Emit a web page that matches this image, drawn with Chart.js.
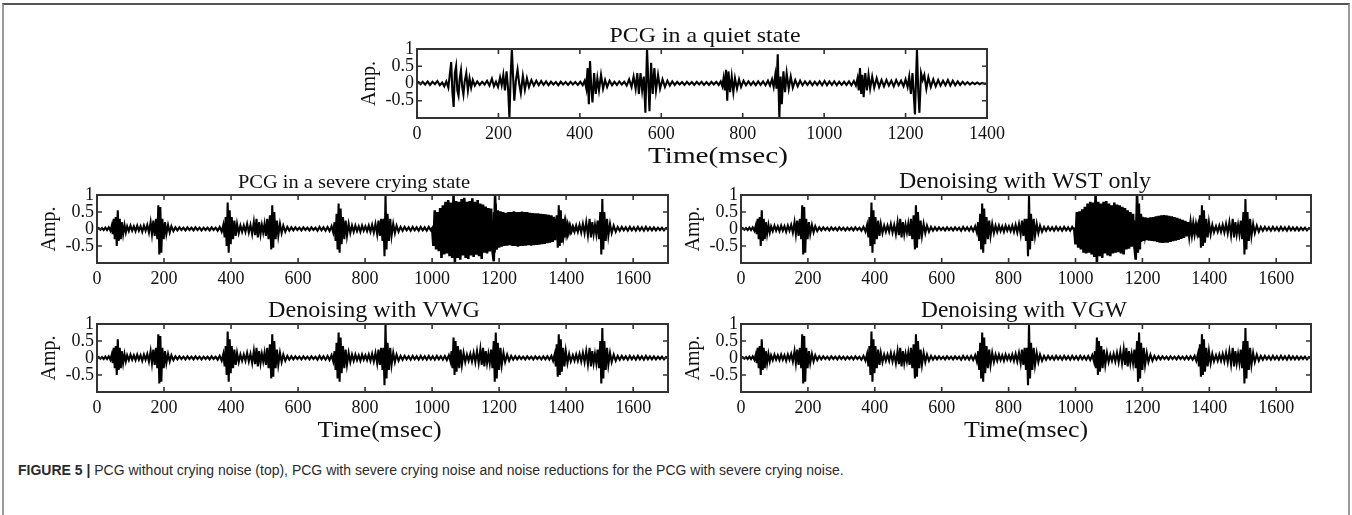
<!DOCTYPE html>
<html><head><meta charset="utf-8">
<script src="https://cdn.jsdelivr.net/npm/chart.js@4.4.1/dist/chart.umd.min.js"></script>
<style>
html,body{margin:0;padding:0;background:#fff;}
body{width:1352px;height:515px;position:relative;overflow:hidden;}
#box{position:absolute;left:2px;top:3px;width:1348px;height:540px;border-top:2px solid #555;border-left:2px solid #9a9a9a;border-right:2px solid #9a9a9a;box-sizing:border-box;}
canvas{position:absolute;}
#cap{position:absolute;left:18px;top:462px;font-family:"Liberation Sans",Arial,sans-serif;font-size:14px;color:#2a2a2a;white-space:nowrap;}
</style></head><body>
<div id="box"></div>
<div id="cap"><b>FIGURE 5 |</b> PCG without crying noise (top), PCG with severe crying noise and noise reductions for the PCG with severe crying noise.</div>
<script>
// ---------- DATA ----------
const yTicks = [-0.5, 0, 0.5, 1];
const xTicksQuiet = [0, 200, 400, 600, 800, 1000, 1200, 1400];
const xTicksLong = [0, 200, 400, 600, 800, 1000, 1200, 1400, 1600];

// PCG in a quiet state: turning points [msec, amp]
const quietPCG = [
[0,0],[4,0.04],[9,-0.02],[14,0.05],[20,-0.03],[26,0.06],[32,-0.04],[38,0.05],[44,-0.02],[50,0.07],[56,-0.05],[62,0.03],[67,-0.08],[72,0.06],[77,-0.12],
[80,0.2],[84,0.62],[87,-0.25],[90,-0.68],[93,0.3],[96,0.5],[99,-0.2],[102,-0.35],[105,0.15],[108,0.38],[111,-0.1],[114,-0.32],[117,0.05],[121,0.3],[125,-0.2],[129,0.15],[133,-0.12],[137,0.1],[142,-0.06],
[148,0.06],[154,-0.04],[160,0.05],[166,-0.03],[172,0.08],[178,-0.06],[184,0.14],[189,-0.08],[194,0.05],[199,-0.1],[204,0.18],[208,-0.05],[212,0.25],[216,-0.2],
[220,0.35],[224,-0.2],[227,-1.0],[230,0.2],[233,1.0],[236,0.2],[239,-0.5],[243,0.1],[247,0.4],[251,0.0],[255,-0.28],[260,0.22],[265,-0.18],[270,0.15],[275,-0.1],[281,0.1],[287,-0.06],[293,0.08],[299,-0.05],
[305,0.07],[311,-0.04],[317,0.06],[323,-0.05],[329,0.05],[335,-0.03],[341,0.04],[347,-0.05],[353,0.05],[359,-0.03],[365,0.04],[371,-0.04],[377,0.05],[383,-0.03],[389,0.04],[395,-0.04],[401,0.05],[407,-0.05],[412,0.08],
[416,-0.15],[419,0.45],[422,-0.6],[425,0.65],[428,-0.1],[431,-0.55],[435,0.3],[439,-0.3],[443,0.15],[447,-0.2],[452,0.25],[457,-0.15],[462,0.1],[467,-0.1],[473,0.08],
[479,-0.05],[485,0.05],[491,-0.04],[497,0.06],[503,-0.03],[509,0.05],[515,-0.06],[521,0.12],[527,-0.1],[532,0.2],[537,-0.15],[541,0.3],[545,-0.3],
[549,0.3],[553,-0.2],[557,0.2],[561,-0.85],[565,1.0],[568,0.1],[571,-0.8],[575,0.6],[579,-0.3],[583,0.45],[587,-0.2],[592,0.25],[597,-0.15],[603,0.12],[609,-0.1],[615,0.08],[621,-0.06],
[627,0.06],[633,-0.04],[639,0.05],[645,-0.03],[651,0.04],[657,-0.04],[663,0.05],[669,-0.03],[675,0.04],[681,-0.04],[687,0.05],[693,-0.03],[699,0.05],[705,-0.04],[711,0.04],[717,-0.04],[723,0.05],[729,-0.03],[735,0.05],[741,-0.04],[746,0.06],
[750,-0.08],[753,0.15],[756,-0.2],[759,0.4],[762,-0.5],[765,0.35],[769,-0.25],[773,0.2],[777,-0.25],[781,0.15],[786,-0.15],[791,0.12],[796,-0.1],[802,0.08],
[808,-0.05],[814,0.06],[820,-0.04],[826,0.05],[832,-0.05],[838,0.06],[844,-0.04],[850,0.06],[856,-0.05],[862,0.08],[867,-0.06],[872,0.12],[876,-0.1],[880,0.25],[883,-0.15],
[886,0.85],[890,-1.0],[893,0.2],[896,-0.6],[900,0.35],[904,-0.25],[908,0.3],[913,-0.15],[918,0.2],[923,-0.12],[929,0.1],[935,-0.08],[941,0.08],
[947,-0.05],[953,0.06],[959,-0.04],[965,0.06],[971,-0.05],[977,0.05],[983,-0.04],[989,0.06],[995,-0.05],[1001,0.07],[1007,-0.05],[1013,0.06],[1019,-0.04],[1025,0.06],[1031,-0.05],[1037,0.05],[1043,-0.04],[1049,0.05],[1055,-0.04],[1061,0.06],[1067,-0.05],[1073,0.07],[1078,-0.06],
[1082,0.15],[1085,-0.2],[1088,0.45],[1091,-0.3],[1094,0.25],[1097,-0.4],[1101,0.3],[1105,-0.2],[1109,0.25],[1113,-0.15],[1118,0.2],[1123,-0.12],[1129,0.15],[1135,-0.1],[1141,0.1],
[1147,-0.08],[1153,0.1],[1159,-0.06],[1165,0.08],[1171,-0.08],[1177,0.1],[1183,-0.05],[1189,0.08],[1195,-0.08],[1200,0.12],[1205,-0.1],[1209,0.2],[1213,-0.3],[1217,0.3],
[1223,-0.9],[1228,1.0],[1231,-0.2],[1234,-0.85],[1238,0.3],[1242,0.1],[1246,0.25],[1251,-0.15],[1256,0.18],[1262,-0.1],[1268,0.12],[1274,-0.08],[1280,0.1],[1286,-0.06],
[1292,0.08],[1298,-0.05],[1304,0.1],[1310,-0.06],[1316,0.08],[1322,-0.05],[1328,0.06],[1334,-0.04],[1340,0.05],[1346,-0.03],[1352,0.04],[1358,-0.03],[1364,0.03],[1370,-0.02],[1376,0.03],[1382,-0.02],[1388,0.02],[1394,-0.01],[1400,0]
];

// Clean PCG (1700 ms) as seen after denoising: turning points [msec, amp]
const cleanPCG = [
[0,0],[5,0.03],[10,-0.02],[15,0.03],[20,-0.03],[25,0.04],[30,-0.03],[35,0.05],[40,-0.05],[44,0.1],
[47,-0.15],[50,0.3],[53,-0.3],[56,0.35],[59,-0.5],[62,0.55],[65,-0.35],[68,0.3],[71,-0.3],[74,0.2],[78,-0.15],[82,0.12],[86,-0.1],[90,0.08],[95,-0.06],
[100,0.1],[105,-0.05],[110,0.08],[115,-0.06],[120,0.1],[125,-0.05],[130,0.08],[135,-0.08],[140,0.1],[145,-0.05],[150,0.12],[155,-0.1],[160,0.2],[164,-0.15],[168,0.25],[172,-0.2],
[176,0.3],[180,-0.3],[183,0.7],[186,-0.75],[189,0.65],[192,-0.7],[195,0.3],[199,-0.3],[203,0.2],[207,-0.15],[212,0.12],[217,-0.1],[222,0.08],[228,-0.06],
[234,0.05],[240,-0.04],[246,0.05],[252,-0.03],[258,0.04],[264,-0.04],[270,0.05],[276,-0.03],[282,0.04],[288,-0.04],[294,0.05],[300,-0.03],[306,0.04],[312,-0.04],[318,0.04],[324,-0.03],[330,0.04],[336,-0.04],[342,0.05],[348,-0.03],[354,0.04],[360,-0.05],[366,0.06],[372,-0.08],[377,0.12],
[381,-0.25],[384,0.35],[387,-0.5],[390,0.78],[393,-0.7],[396,0.55],[399,-0.45],[402,0.35],[406,-0.3],[410,0.25],[414,-0.2],[418,0.15],[423,-0.12],[428,0.1],[433,-0.08],
[438,0.1],[443,-0.08],[448,0.15],[453,-0.1],[458,0.12],[463,-0.15],[468,0.2],[472,-0.18],[476,0.3],[480,-0.25],[484,0.2],[488,-0.15],[492,0.12],[496,-0.1],[500,0.15],[504,-0.2],[508,0.3],[512,-0.3],
[516,0.4],[520,-0.6],[523,0.7],[526,-0.55],[529,0.5],[533,-0.3],[537,0.25],[541,-0.2],[546,0.15],[551,-0.12],[556,0.1],[562,-0.08],
[568,0.06],[574,-0.05],[580,0.05],[586,-0.04],[592,0.05],[598,-0.03],[604,0.04],[610,-0.04],[616,0.05],[622,-0.03],[628,0.04],[634,-0.04],[640,0.05],[646,-0.03],[652,0.04],[658,-0.05],[664,0.06],[670,-0.04],[676,0.05],[682,-0.05],[688,0.06],[694,-0.06],[700,0.08],[705,-0.1],
[709,0.2],[712,-0.35],[715,0.45],[718,-0.6],[721,0.75],[724,-0.7],[727,0.6],[730,-0.45],[734,0.35],[738,-0.3],[742,0.25],[746,-0.2],[751,0.15],[756,-0.12],[761,0.1],
[766,-0.08],[771,0.1],[776,-0.06],[781,0.08],[786,-0.08],[791,0.1],[796,-0.05],[801,0.08],[806,-0.06],[811,0.1],[816,-0.08],[821,0.12],[826,-0.1],[831,0.15],[836,-0.15],[840,0.25],[844,-0.2],[848,0.3],
[852,-0.35],[855,0.3],[858,-0.8],[861,1.0],[864,-0.6],[867,0.45],[871,-0.35],[875,0.3],[879,-0.2],[884,0.15],[889,-0.12],[894,0.1],[900,-0.08],
[906,0.06],[912,-0.05],[918,0.06],[924,-0.04],[930,0.05],[936,-0.05],[942,0.06],[948,-0.04],[954,0.05],[960,-0.05],[966,0.06],[972,-0.04],[978,0.05],[984,-0.05],[990,0.06],[996,-0.04],[1002,0.05],[1008,-0.05],[1014,0.06],[1020,-0.04],[1026,0.05],[1032,-0.05],[1038,0.06],[1044,-0.06],[1050,0.08],[1055,-0.1],
[1058,0.2],[1061,-0.3],[1064,0.6],[1067,-0.5],[1070,0.5],[1073,-0.4],[1077,0.35],[1081,-0.3],[1085,0.25],[1089,-0.2],[1094,0.15],[1099,-0.12],[1104,0.1],
[1109,-0.08],[1114,0.12],[1119,-0.1],[1124,0.15],[1129,-0.12],[1134,0.2],[1139,-0.15],[1144,0.25],[1148,-0.2],[1152,0.3],[1156,-0.25],[1160,0.2],[1164,-0.15],[1168,0.12],[1172,-0.15],[1176,0.25],[1180,-0.3],
[1184,0.5],[1187,-0.7],[1190,0.75],[1193,-0.6],[1196,0.45],[1200,-0.35],[1204,0.3],[1208,-0.2],[1213,0.15],[1218,-0.12],[1224,0.1],[1230,-0.08],
[1236,0.06],[1242,-0.05],[1248,0.05],[1254,-0.04],[1260,0.05],[1266,-0.03],[1272,0.04],[1278,-0.04],[1284,0.05],[1290,-0.03],[1296,0.04],[1302,-0.04],[1308,0.05],[1314,-0.03],[1320,0.04],[1326,-0.04],[1332,0.05],[1338,-0.04],[1344,0.05],[1350,-0.05],[1356,0.06],[1361,-0.08],[1366,0.12],
[1369,-0.25],[1372,0.4],[1375,-0.55],[1378,0.7],[1381,-0.5],[1384,0.55],[1387,-0.4],[1391,0.3],[1395,-0.25],[1399,0.2],[1404,-0.15],[1409,0.12],[1414,-0.1],[1420,0.08],
[1425,-0.08],[1430,0.1],[1435,-0.08],[1440,0.12],[1445,-0.1],[1450,0.15],[1455,-0.12],[1460,0.2],[1465,-0.18],[1470,0.3],[1474,-0.25],[1478,0.2],[1482,-0.15],[1486,0.12],[1490,-0.15],[1494,0.25],[1498,-0.3],
[1502,0.5],[1505,-0.75],[1508,0.88],[1511,-0.6],[1514,0.5],[1518,-0.35],[1522,0.3],[1526,-0.2],[1531,0.15],[1536,-0.12],[1542,0.1],[1548,-0.08],
[1554,0.06],[1560,-0.05],[1566,0.06],[1572,-0.04],[1578,0.05],[1584,-0.05],[1590,0.06],[1596,-0.04],[1602,0.05],[1608,-0.05],[1614,0.06],[1620,-0.04],[1626,0.05],[1632,-0.05],[1638,0.06],[1644,-0.04],[1650,0.05],[1656,-0.04],[1662,0.05],[1668,-0.04],[1674,0.04],[1680,-0.03],[1686,0.04],[1692,-0.04],[1698,0.03],[1704,0]
];

// Crying-noise bursts, sampled every noiseStep msec from their start
const noiseStep = 4;
const cryNoiseStart = 1000;
const cryNoise = [0.05,-0.5,0.55,-0.6,0.5,-0.65,0.62,-0.85,0.7,-0.75,0.8,-0.72,0.85,-0.8,0.78,-0.85,1.0,-1.0,0.82,-0.85,0.8,-0.9,0.88,-0.78,0.92,-0.85,0.8,-0.88,0.82,-0.78,0.9,-0.82,0.8,-0.76,0.85,-0.8,0.75,-0.88,0.72,-0.7,0.66,-0.72,0.62,-0.66,0.6,-0.62,
-0.95,1.0,
-0.6,0.55,-0.55,0.52,-0.52,0.5,-0.5,0.48,-0.49,0.5,-0.48,0.5,-0.5,0.52,-0.5,0.5,-0.52,0.5,-0.5,0.51,-0.5,0.5,-0.49,0.5,-0.48,0.48,-0.49,0.47,-0.48,0.46,-0.47,0.46,-0.46,0.45,-0.45,0.44,-0.44,0.43,-0.42,0.42,-0.4,0.4,-0.38,
0.36,-0.33,0.3,-0.27,0.25,-0.22,0.2,-0.17,0.15,-0.13,0.11,-0.09,0.08,-0.06,0.05,-0.04,0.03,-0.02,0];
const wstNoiseStart = 996;
const wstNoise = [0.05,-0.45,0.5,-0.55,0.52,-0.6,0.58,-0.7,0.65,-0.72,0.75,-0.7,0.8,-0.75,0.78,-0.82,1.0,-1.0,0.8,-0.8,0.75,-0.85,0.8,-0.72,0.82,-0.78,0.75,-0.8,0.7,-0.72,0.78,-0.7,0.72,-0.68,0.7,-0.72,0.65,-0.75,0.62,-0.6,0.55,-0.58,0.5,-0.52,0.45,-0.5,
-0.9,1.0,
-0.42,0.4,-0.38,0.36,-0.35,0.34,-0.33,0.33,-0.34,0.34,-0.35,0.35,-0.36,0.37,-0.38,0.39,-0.4,0.4,-0.41,0.41,-0.4,0.4,-0.4,0.39,-0.38,0.37,-0.36,0.35,-0.34,0.33,-0.32,0.3,-0.29,0.27,-0.26,0.24,-0.22,0.2,-0.18,
0.17,-0.15,0.14,-0.13,0.12,-0.11,0.1,-0.09,0.09,-0.08,0.07,-0.06,0.06,-0.05,0.04,-0.04,0.03,-0.02,0.01,0];

// ---------- CHARTS ----------
const toXY = pts => pts.map(p => ({x: p[0], y: p[1]}));
const noiseXY = (vals, start) => vals.map((v, i) => ({x: start + i * noiseStep, y: v}));

// L,R,T,B: frame box; tx/tw/tfs: title centre, width, font size; lx/lw: xlabel shift & width
const panels = [
  {title:'PCG in a quiet state', L:417, R:987, T:49, B:118, xMax:1400, xt:xTicksQuiet, xlabel:true, tx:705, tw:191, tfs:21, lx:16, lw:140, sets:[toXY(quietPCG)]},
  {title:'PCG in a severe crying state', L:97, R:668, T:195, B:263, xMax:1704, xt:xTicksLong, xlabel:false, tx:354, tw:232, tfs:19.5, sets:[toXY(cleanPCG), noiseXY(cryNoise, cryNoiseStart)]},
  {title:'Denoising with WST only', L:741, R:1311, T:195, B:263, xMax:1704, xt:xTicksLong, xlabel:false, tx:1025, tw:252, tfs:22.5, sets:[toXY(cleanPCG), noiseXY(wstNoise, wstNoiseStart)]},
  {title:'Denoising with VWG', L:97, R:668, T:324, B:392, xMax:1704, xt:xTicksLong, xlabel:true, tx:374, tw:212, tfs:22.5, lx:-3, lw:124, sets:[toXY(cleanPCG)]},
  {title:'Denoising with VGW', L:741, R:1311, T:324, B:392, xMax:1704, xt:xTicksLong, xlabel:true, tx:1024, tw:206, tfs:22.5, lx:0, lw:124, sets:[toXY(cleanPCG)]}
];

const SERIF = '"Liberation Serif","Times New Roman",serif';
function fitText(ctx, s, cx, y, w) {
  const m = ctx.measureText(s).width;
  ctx.save(); ctx.translate(cx, y); ctx.scale(w / m, 1);
  ctx.fillText(s, 0, 0); ctx.restore();
}
const framePlugin = {
  id: 'frame',
  afterDraw(chart, args, o) {
    const {ctx, chartArea: a, scales: {x, y}} = chart;
    const off = chart.canvas.offsetLeft;
    ctx.save();
    ctx.strokeStyle = '#333'; ctx.lineWidth = 2;
    ctx.strokeRect(a.left, a.top, a.right - a.left, a.bottom - a.top);
    ctx.lineWidth = 1.6; ctx.beginPath();
    x.ticks.forEach(t => { const px = x.getPixelForValue(t.value);
      ctx.moveTo(px, a.bottom); ctx.lineTo(px, a.bottom - 5);
      ctx.moveTo(px, a.top); ctx.lineTo(px, a.top + 5); });
    y.ticks.forEach(t => { const py = y.getPixelForValue(t.value);
      ctx.moveTo(a.left, py); ctx.lineTo(a.left + 5, py);
      ctx.moveTo(a.right, py); ctx.lineTo(a.right - 5, py); });
    ctx.stroke();
    ctx.fillStyle = '#111';
    ctx.textAlign = 'center'; ctx.textBaseline = 'alphabetic';
    const cx = (a.left + a.right) / 2;
    ctx.font = o.tfs + 'px ' + SERIF;
    fitText(ctx, o.title, o.tx - off, a.top - 7, o.tw);
    if (o.xlabel) { ctx.font = '22.5px ' + SERIF; fitText(ctx, 'Time(msec)', cx + o.lx, a.bottom + 45, o.lw); }
    ctx.font = '20px ' + SERIF;
    ctx.translate(a.left - 47, (a.top + a.bottom) / 2);
    ctx.rotate(-Math.PI / 2);
    ctx.textBaseline = 'middle';
    ctx.fillText('Amp.', 0, 0);
    ctx.restore();
  }
};

const padL = 75, padT = 40, padR = 45, xH = 70;
panels.forEach(p => {
  const c = document.createElement('canvas');
  const w = padL + (p.R - p.L) + padR, h = padT + (p.B - p.T) + xH;
  c.width = w; c.height = h;
  c.style.left = (p.L - padL) + 'px'; c.style.top = (p.T - padT) + 'px';
  c.style.width = w + 'px'; c.style.height = h + 'px';
  document.body.appendChild(c);
  new Chart(c, {
    type: 'line',
    data: { datasets: p.sets.map((s, i) => ({ data: s, borderColor: '#000', borderWidth: i ? 2.6 : 2.1, pointRadius: 0, tension: 0, fill: false })) },
    options: {
      responsive: false, animation: false, devicePixelRatio: 1,
      layout: { padding: { left: 0, top: padT, right: padR, bottom: 0 } },
      plugins: { legend: { display: false }, tooltip: { enabled: false }, title: { display: false },
        frame: { title: p.title, tx: p.tx, tw: p.tw, tfs: p.tfs, lx: p.lx, lw: p.lw, xlabel: p.xlabel } },
      scales: {
        x: { type: 'linear', min: 0, max: p.xMax,
          afterBuildTicks: s => { s.ticks = p.xt.map(v => ({ value: v })); },
          afterFit: s => { s.height = xH; },
          grid: { display: false, drawTicks: false }, border: { display: false },
          ticks: { color: '#111', font: { family: SERIF, size: 18 }, padding: 5, maxRotation: 0, autoSkip: false, callback: v => String(v) } },
        y: { type: 'linear', min: -1, max: 1,
          afterBuildTicks: s => { s.ticks = yTicks.map(v => ({ value: v })); },
          afterFit: s => { s.width = padL; },
          grid: { display: false, drawTicks: false }, border: { display: false },
          ticks: { color: '#111', font: { family: SERIF, size: 18 }, padding: 3, autoSkip: false, callback: v => String(v) } }
      }
    },
    plugins: [framePlugin]
  });
});
</script>
</body></html>
